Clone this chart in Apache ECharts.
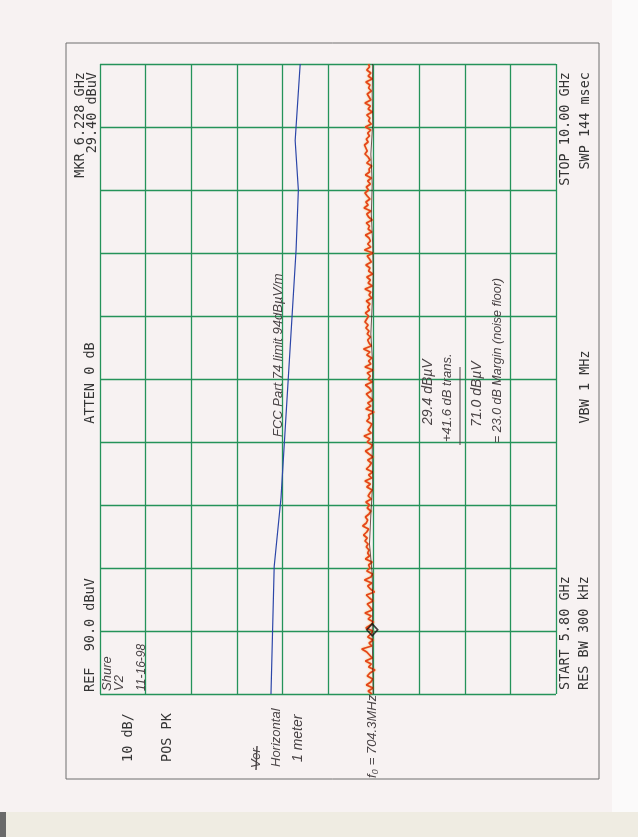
<!DOCTYPE html>
<html><head><meta charset="utf-8">
<script src="https://cdn.jsdelivr.net/npm/echarts@6/dist/echarts.min.js"></script>
<style>html,body{margin:0;padding:0;background:#f7f2f2;}#c{width:638px;height:837px;}</style>
</head><body><div id="c"></div>
<script>
// ---- instrument settings ----
const START_GHZ = 5.80;
const STOP_GHZ = 10.00;
const REF_DBUV = 90;
const BOTTOM_DBUV = -10;
const DB_PER_DIV = 10;
const FREQ_DIVS = 10;

// ---- measured trace (dBuV), evenly spaced sweep points from START to STOP ----
const traceDbuv = [
  30.4, 31.2, 30.1, 31.6, 30.6, 30.2, 31.4, 30.8, 29.7, 31.1,
  30.5, 31.8, 30.3, 30.9, 31.5, 32.6, 30.4, 31.0, 30.1, 31.3,
  30.6, 30.2, 31.7, 30.7, 30.0, 31.2, 30.5, 31.9, 30.3, 30.8,
  31.4, 30.1, 30.9, 31.6, 29.8, 30.7, 31.3, 30.4, 32.0, 30.6,
  30.2, 31.5, 30.8, 31.1, 30.3, 31.8, 30.9, 31.3, 31.0, 31.6,
  31.2, 31.9, 31.4, 32.2, 31.5, 31.1, 32.4, 31.6, 31.3, 31.8,
  31.0, 30.6, 31.4, 30.9, 31.7, 30.5, 31.2, 30.8, 30.3, 31.5,
  30.7, 31.9, 30.4, 31.1, 30.2, 31.6, 30.9, 30.5, 31.3, 30.1,
  31.0, 31.8, 30.6, 30.3, 31.4, 30.8, 32.1, 30.5, 31.2, 30.7,
  30.4, 31.5, 30.9, 31.1, 29.9, 31.7, 30.6, 31.3, 30.2, 31.0,
  31.6, 30.5, 30.9, 31.8, 30.3, 31.2, 30.7, 31.4, 30.1, 31.9,
  30.6, 31.1, 30.4, 31.5, 30.8, 32.2, 30.5, 31.0, 31.3, 30.7,
  31.4, 31.0, 31.7, 31.2, 31.9, 31.5, 31.1, 31.8, 30.9, 31.3,
  30.8, 31.6, 30.4, 31.0, 30.6, 31.9, 30.3, 31.2, 30.7, 31.5,
  30.2, 31.1, 30.8, 31.7, 30.5, 30.9, 31.4, 30.1, 32.0, 30.6,
  31.3, 30.7, 31.0, 31.8, 30.4, 31.2, 30.9, 31.6, 30.3, 31.1,
  31.5, 30.6, 32.1, 31.2, 31.7, 30.8, 31.4, 31.9, 31.1, 31.6,
  30.7, 31.3, 30.5, 31.8, 30.9, 31.0, 30.4, 31.5, 30.8, 31.2,
  31.9, 31.4, 31.7, 32.0, 31.2, 31.6, 30.9, 31.3, 30.6, 31.8,
  30.5, 31.1, 30.8, 31.5, 30.3, 31.2, 30.7, 31.9, 30.6, 31.0,
  31.4, 30.5, 31.1, 30.8, 31.7, 30.3, 31.2, 30.6, 31.5, 30.9, 31.1
];

// ---- dark pen line under the trace ----
const coreFreq = [5.8, 6.0, 6.2, 6.4, 6.6, 6.8, 7.0, 7.2, 7.4, 7.6, 7.8, 8.0, 8.2, 8.4, 8.6, 8.8, 9.0, 9.2, 9.4, 9.6, 9.8, 10.0];
const coreDbuv = [30.1, 30.2, 30.3, 30.2, 30.3, 30.9, 30.6, 30.2, 30.3, 30.2, 30.3, 30.2, 30.6, 30.3, 30.1, 30.2, 30.5, 30.3, 30.6, 30.2, 30.3, 30.2];

// ---- FCC Part 74 limit line (blue) ----
const limitFreq = [5.80, 6.65, 7.11, 8.76, 9.16, 9.49, 10.00];
const limitDbuv = [52.5, 51.8, 50.3, 47.0, 46.5, 47.2, 46.1];

// ---- marker ----
const markerFreq = [6.228];
const markerDbuv = [30.3];

// ---- annotation texts ----
const refLabel = 'REF  90.0 dBuV';
const attenLabel = 'ATTEN 0 dB';
const mkrLabels = ['MKR 6.228 GHz', '29.40 dBuV'];
const scaleLabels = ['10 dB/', 'POS PK'];
const startLabels = ['START 5.80 GHz', 'RES BW 300 kHz'];
const vbwLabel = 'VBW 1 MHz';
const stopLabels = ['STOP 10.00 GHz', 'SWP 144 msec'];
const dutLabels = ['Shure', 'V2', '11-16-98'];
const setupLabels = ['Ver', 'Horizontal', '1 meter'];
const fundLabel = 'f\u2080 = 704.3MHz';
const limitLabel = 'FCC Part 74 limit 94dB\u00b5V/m';
const calcLabels = ['29.4 dB\u00b5V', '+41.6 dB trans.', '71.0 dB\u00b5V', '= 23.0 dB Margin (noise floor)'];

const GREEN = '#25935a';
const PLOT_FONT = '13.5px "DejaVu Sans Mono", "Liberation Mono", monospace';
const HAND_FONT = 'italic 13px "Liberation Sans", "DejaVu Sans", sans-serif';
const HAND_COLOR = '#4a4446';
const PLOT_COLOR = '#353535';

const traceFreq = traceDbuv.map((_, i) => START_GHZ + i * (STOP_GHZ - START_GHZ) / (traceDbuv.length - 1));

function vtext(str, x, y, align, font, color) {
  return {
    type: 'text', x: x, y: y, rotation: Math.PI / 2, z: 10,
    style: { text: str, font: font, fill: color, align: align, textAlign: align,
             verticalAlign: 'middle', textVerticalAlign: 'middle' }
  };
}

const chart = echarts.init(document.getElementById('c'), null, { renderer: 'canvas' });
const option = {
  animation: false,
  backgroundColor: '#f7f2f2',
  grid: { left: 100, right: 82, top: 64, bottom: 143 },
  xAxis: [{
    type: 'value', min: BOTTOM_DBUV, max: REF_DBUV, interval: DB_PER_DIV, inverse: true,
    axisLine: { show: false }, axisTick: { show: false }, axisLabel: { show: false },
    splitLine: { show: true, lineStyle: { color: GREEN, width: 1.3 } }
  }],
  yAxis: [{
    type: 'value', min: 0, max: FREQ_DIVS, interval: 1,
    axisLine: { show: false }, axisTick: { show: false }, axisLabel: { show: false },
    splitLine: { show: true, lineStyle: { color: GREEN, width: 1.3 } }
  }, {
    type: 'value', min: START_GHZ, max: STOP_GHZ, show: false,
    splitLine: { show: false }
  }],
  series: [{
    name: 'limit', type: 'line', yAxisIndex: 1, symbol: 'none', z: 3,
    data: limitFreq.map((f, i) => [limitDbuv[i], f]),
    lineStyle: { color: '#2c46a8', width: 1.2 }
  }, {
    name: 'trace', type: 'line', yAxisIndex: 1, symbol: 'none', z: 4,
    data: traceFreq.map((f, i) => [traceDbuv[i], f]),
    lineStyle: { color: '#e5441a', width: 1.7, shadowColor: 'rgba(245,170,40,0.7)', shadowBlur: 2 }
  }, {
    name: 'pen', type: 'line', yAxisIndex: 1, symbol: 'none', z: 5,
    data: coreFreq.map((f, i) => [coreDbuv[i], f]),
    lineStyle: { color: '#3a1810', width: 0.9, opacity: 0.8 }
  }, {
    name: 'marker', type: 'scatter', yAxisIndex: 1, z: 6,
    symbol: 'diamond', symbolSize: [11, 12],
    data: markerFreq.map((f, i) => [markerDbuv[i], f]),
    itemStyle: { color: 'rgba(0,0,0,0)', borderColor: '#111', borderWidth: 1.6 }
  }],
  graphic: [
    { type: 'rect', z: -5, shape: { x: 0, y: 812, width: 638, height: 25 }, style: { fill: '#efece2' } },
    { type: 'rect', z: -4, shape: { x: 0, y: 812, width: 6, height: 25 }, style: { fill: '#6a6a6a' } },
    { type: 'rect', z: -5, shape: { x: 612, y: 0, width: 26, height: 812 }, style: { fill: '#fbfafa' } },
    { type: 'rect', z: 1, shape: { x: 66, y: 43, width: 533, height: 736 }, style: { fill: 'none', stroke: '#6e6e6e', lineWidth: 1 } },

    vtext(refLabel, 90, 692, 'left', PLOT_FONT, PLOT_COLOR),
    vtext(attenLabel, 90, 383, 'center', PLOT_FONT, PLOT_COLOR),
    vtext(mkrLabels[0], 80, 72, 'right', PLOT_FONT, PLOT_COLOR),
    vtext(mkrLabels[1], 92, 72, 'right', PLOT_FONT, PLOT_COLOR),
    vtext(scaleLabels[0], 128, 762, 'left', PLOT_FONT, PLOT_COLOR),
    vtext(scaleLabels[1], 167, 762, 'left', PLOT_FONT, PLOT_COLOR),
    vtext(startLabels[0], 565, 690, 'left', PLOT_FONT, PLOT_COLOR),
    vtext(startLabels[1], 584, 690, 'left', PLOT_FONT, PLOT_COLOR),
    vtext(vbwLabel, 585, 387, 'center', PLOT_FONT, PLOT_COLOR),
    vtext(stopLabels[0], 565, 72, 'right', PLOT_FONT, PLOT_COLOR),
    vtext(stopLabels[1], 585, 72, 'right', PLOT_FONT, PLOT_COLOR),

    vtext(dutLabels[0], 107, 691, 'left', HAND_FONT, HAND_COLOR),
    vtext(dutLabels[1], 119, 691, 'left', HAND_FONT, HAND_COLOR),
    vtext(dutLabels[2], 142, 691, 'left', 'italic 12px "Liberation Sans", sans-serif', HAND_COLOR),
    vtext(setupLabels[0], 256, 768, 'left', HAND_FONT, HAND_COLOR),
    { type: 'line', z: 11, shape: { x1: 256, y1: 770, x2: 257, y2: 746 }, style: { stroke: HAND_COLOR, lineWidth: 1.4 } },
    vtext(setupLabels[1], 276, 767, 'left', HAND_FONT, HAND_COLOR),
    vtext(setupLabels[2], 298, 762, 'left', 'italic 14px "Liberation Sans", sans-serif', HAND_COLOR),
    vtext(fundLabel, 372, 778, 'left', HAND_FONT, HAND_COLOR),
    vtext(limitLabel, 278, 437, 'left', HAND_FONT, HAND_COLOR),
    vtext(calcLabels[0], 428, 425, 'left', 'italic 14px "Liberation Sans", sans-serif', HAND_COLOR),
    vtext(calcLabels[1], 447, 442, 'left', HAND_FONT, HAND_COLOR),
    { type: 'line', z: 11, shape: { x1: 460, y1: 367, x2: 460, y2: 445 }, style: { stroke: HAND_COLOR, lineWidth: 1 } },
    vtext(calcLabels[2], 477, 427, 'left', 'italic 14px "Liberation Sans", sans-serif', HAND_COLOR),
    vtext(calcLabels[3], 498, 443, 'left', 'italic 12.5px "Liberation Sans", sans-serif', HAND_COLOR)
  ]
};
chart.setOption(option);
</script>
</body></html>
